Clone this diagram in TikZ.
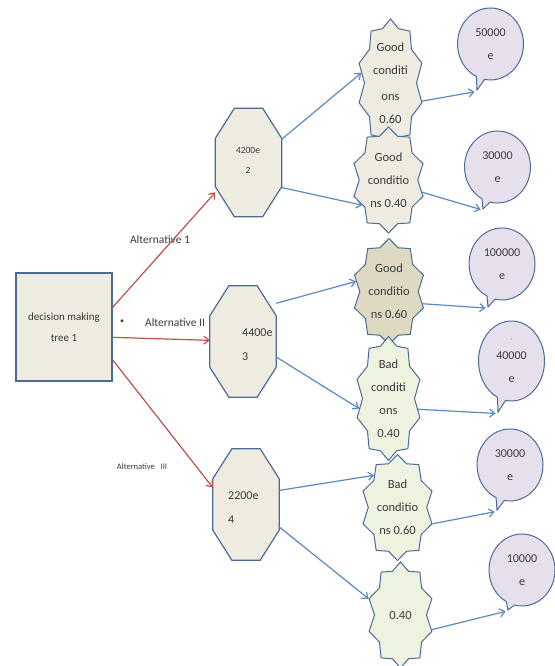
\documentclass[tikz,border=0pt]{standalone}
\usepackage{fontspec}
\setmainfont{Carlito}
\usetikzlibrary{shapes.symbols,shapes.callouts,arrows.meta}
\definecolor{bord}{HTML}{4A6B97}
\definecolor{ablue}{HTML}{5A89C4}
\definecolor{ared}{HTML}{C0504D}
\definecolor{beige}{HTML}{EEECE1}
\definecolor{tanfill}{HTML}{DDD9C3}
\definecolor{lgreen}{HTML}{EEF3E0}
\definecolor{lav}{HTML}{E6E0EC}
\definecolor{txt}{HTML}{3A3A3A}
\newcommand{\octapath}[1]{%
  \draw[draw=bord,line width=1.2pt,fill=beige]
    ([xshift=19pt]#1.north west) -- ([xshift=-19pt]#1.north east)
    -- ([yshift=-30pt]#1.north east) -- ([yshift=30pt]#1.south east)
    -- ([xshift=-19pt]#1.south east) -- ([xshift=19pt]#1.south west)
    -- ([yshift=30pt]#1.south west) -- ([yshift=-30pt]#1.north west) -- cycle;}
\begin{document}
\begin{tikzpicture}[x=1pt,y=-1pt,
  every node/.style={text=txt},
  rectbox/.style={draw=bord,line width=1.2pt,fill=beige,minimum width=96pt,minimum height=108pt,inner sep=0pt,align=center,font=\fontsize{11}{21}\selectfont},
  octo/.style={rectangle,minimum width=66pt,minimum height=108pt,inner sep=0pt},
  octtext/.style={align=left,font=\fontsize{12}{24}\selectfont,inner sep=0pt},
  burst/.style={starburst,random starburst=0,starburst points=10,shape border rotate=18,starburst point height=7pt,draw=bord,line width=1pt,minimum width=66pt,minimum height=106pt,inner sep=0pt,align=center,font=\fontsize{12.5}{23}\selectfont},
  bub/.style={ellipse callout,draw=bord,line width=1pt,fill=lav,minimum width=66pt,minimum height=72pt,inner sep=0pt,align=center,font=\fontsize{12}{23}\selectfont},
  redarrow/.style={draw=ared,line width=1.2pt,-{Straight Barb[length=5pt,width=8pt]}},
  bluearrow/.style={draw=ablue,line width=1.2pt,-{Straight Barb[length=5pt,width=8pt]}},
  lab/.style={font=\fontsize{11.5}{12}\selectfont,inner sep=0pt}
]
\useasboundingbox[fill=white] (0,0) rectangle (554,666);

% root
\node[rectbox] (root) at (64,327) {decision making\\tree 1};

% octagons
\node[octo] (o1) at (248.5,162.5) {};
\node[octo,minimum height=111pt] (o2) at (243,341.5) {};
\node[octo,minimum height=111pt] (o3) at (246,504.5) {};
\octapath{o1}
\octapath{o2}
\octapath{o3}
\node[octtext,align=center,font=\fontsize{9.5}{20}\selectfont] (o1t) at (248,160) {4200e\\2};
\node[octtext,anchor=west] (o2t) at (242,345) {4400e\\3};
\node[octtext,anchor=west] (o3t) at (228,508) {2200e\\4};

% starbursts
\node[burst,fill=beige] (s1) at (390.5,83) {Good\\conditi\\[3pt]ons\\0.60};
\node[burst,fill=beige] (s2) at (388.5,180) {Good\\conditio\\ns 0.40};
\node[burst,fill=tanfill] (s3) at (389,291.5) {Good\\conditio\\ns 0.60};
\node[burst,fill=lgreen] (s4) at (388.5,398.5) {Bad\\conditi\\ons\\0.40};
\node[burst,fill=lgreen] (s5) at (397.5,507.5) {Bad\\conditio\\ns 0.60};
\node[burst,fill=lgreen] (s6) at (400.5,615) {0.40};

% bubbles
\node[bub,callout absolute pointer={(477,90)}] (b1) at (490.5,44) {50000\\e};
\node[bub,callout absolute pointer={(483,209)}] (b2) at (497.5,167) {30000\\e};
\node[bub,callout absolute pointer={(488,307)}] (b3) at (502,264) {100000\\e};
\node[bub,minimum height=80pt,callout absolute pointer={(498,412)}] (b4) at (511.5,361) {\raisebox{2pt}{\fontsize{5}{5}\selectfont '}\\[-8pt]40000\\e};
\node[bub,callout absolute pointer={(497,510)}] (b5) at (510,465) {30000\\e};
\node[bub,callout absolute pointer={(508,610)}] (b6) at (522,570) {10000\\e};

% labels
\node[lab] (l1) at (160,240) {Alternative 1};
\node[lab] (l2) at (175,323) {Alternative II};
\node[lab,font=\fontsize{8}{10}\selectfont] (dot) at (122,322) {\textbullet};
\node[lab,font=\fontsize{8.5}{9}\selectfont] (l3) at (142,467) {Alternative\ \ \ III};

% red connectors
\draw[redarrow] (root.22) -- (o1.222);
\draw[redarrow] (root.-12) -- (o2.178);
\draw[redarrow] (root.-34) -- (o3.153);

% blue connectors octagon -> burst
\draw[bluearrow] (o1.35) -- (s1.161);
\draw[bluearrow] (o1.-37) -- (s2.224);
\draw[bluearrow] (o2.49) -- (s3.163);
\draw[bluearrow] (o2.-25) -- (s4.199);
\draw[bluearrow] (o3.23) -- (s5.126);
\draw[bluearrow] (o3.-34) -- (s6.153);

% blue connectors burst -> bubble
\draw[bluearrow,shorten >=2pt] (s1.-30) -- (b1.pointer);
\draw[bluearrow,shorten >=2pt] (s2.-20) -- (b2.pointer);
\draw[bluearrow,shorten >=2pt] (s3.-20) -- (b3.pointer);
\draw[bluearrow,shorten >=2pt] (s4.-20) -- (b4.pointer);
\draw[bluearrow,shorten >=2pt] (s5.-25) -- (b5.pointer);
\draw[bluearrow,shorten >=2pt] (s6.-25) -- (b6.pointer);
\end{tikzpicture}
\end{document}
